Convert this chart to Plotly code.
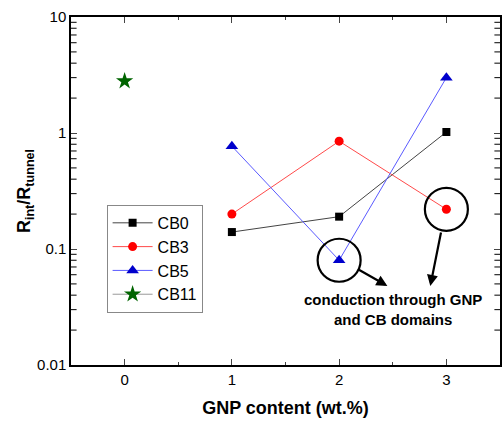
import plotly.graph_objects as go
import math

x_cb0 = [1, 2, 3]
y_cb0 = [0.14, 0.19, 1.02]
x_cb3 = [1, 2, 3]
y_cb3 = [0.2, 0.85, 0.22]
x_cb5 = [1, 2, 3]
y_cb5 = [0.77, 0.08, 3.0]
x_cb11 = [0]
y_cb11 = [2.8]

circled_x = [2, 3]
circled_y = [0.08, 0.22]

x_range = [-0.5, 3.5]
minor_y_ticks = [m * 10 ** e for e in (-2, -1, 0) for m in range(2, 10)]

FONT = "Liberation Sans, Arial, sans-serif"

fig = go.Figure()
fig.add_trace(go.Scatter(x=x_cb0, y=y_cb0, mode="lines+markers", name="CB0",
                         line=dict(color="#444444", width=1),
                         marker=dict(symbol="square", size=8, color="black")))
fig.add_trace(go.Scatter(x=x_cb3, y=y_cb3, mode="lines+markers", name="CB3",
                         line=dict(color="#ff4a4a", width=1),
                         marker=dict(symbol="circle", size=9, color="#ff0000")))
fig.add_trace(go.Scatter(x=x_cb5, y=y_cb5, mode="lines+markers", name="CB5",
                         line=dict(color="#5a5aff", width=1),
                         marker=dict(symbol="triangle-up", size=11, color="#0000cc")))
fig.add_trace(go.Scatter(x=x_cb11, y=y_cb11, mode="lines+markers", name="CB11",
                         line=dict(color="#999999", width=1),
                         marker=dict(symbol="star", size=13, color="#006400")))
fig.add_trace(go.Scatter(x=circled_x, y=circled_y, mode="markers", showlegend=False,
                         hoverinfo="skip",
                         marker=dict(symbol="circle-open", size=43,
                                     line=dict(color="black", width=2.2), color="black")))

# minor ticks of the log y axis (left edge and mirrored right edge), half clipped by the plot area
for edge in x_range:
    fig.add_trace(go.Scatter(x=[edge] * len(minor_y_ticks), y=minor_y_ticks, mode="markers",
                             showlegend=False, hoverinfo="skip", cliponaxis=True,
                             marker=dict(symbol="line-ew", size=8,
                                         line=dict(color="black", width=1))))

fig.add_annotation(x=2.45, y=math.log10(0.048), ax=-30, ay=-17, xref="x", yref="y",
                   showarrow=True, arrowhead=2, arrowsize=1, arrowwidth=2.2,
                   arrowcolor="black", text="")
fig.add_annotation(x=2.85, y=math.log10(0.048), ax=11, ay=-55, xref="x", yref="y",
                   showarrow=True, arrowhead=2, arrowsize=1, arrowwidth=2.2,
                   arrowcolor="black", text="")
fig.add_annotation(x=2.5, y=math.log10(0.03), xref="x", yref="y", showarrow=False,
                   text="<b>conduction through GNP<br>and CB domains</b>",
                   font=dict(family=FONT, size=15, color="black"), align="center")

fig.update_layout(
    width=502, height=424,
    margin=dict(l=71, r=0, t=17, b=59),
    paper_bgcolor="white", plot_bgcolor="white",
    font=dict(family=FONT, size=15, color="black"),
    legend=dict(x=0.083, y=0.46, xanchor="left", yanchor="top",
                bordercolor="#888888", borderwidth=1, bgcolor="white",
                font=dict(size=16), tracegroupgap=0, itemwidth=40),
    showlegend=True,
    xaxis=dict(range=x_range, dtick=1, tick0=0, ticks="inside", ticklen=6,
               tickwidth=1, showline=True, linecolor="black", linewidth=1.5,
               mirror="allticks", showgrid=False, zeroline=False,
               minor=dict(ticks="inside", ticklen=3, dtick=0.5, tick0=0, showgrid=False),
               title=dict(text="<b>GNP content (wt.%)</b>", font=dict(size=18), standoff=15)),
    yaxis=dict(type="log", range=[-2, 1], dtick=1, ticks="inside", ticklen=6,
               tickwidth=1, showline=True, linecolor="black", linewidth=1.5,
               mirror="allticks", showgrid=False, zeroline=False,
               title=dict(text="<b>R<sub>int</sub>/R<sub>tunnel</sub></b>", font=dict(size=18), standoff=2)),
)

fig.write_html("out.html")
